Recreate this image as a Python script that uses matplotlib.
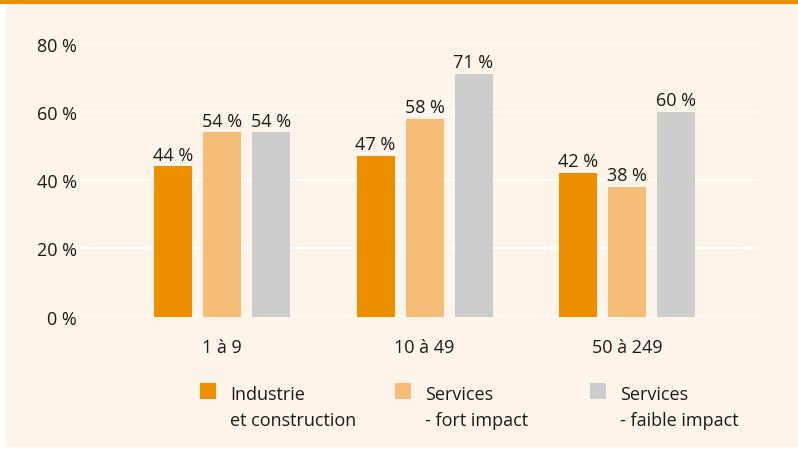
import matplotlib
matplotlib.use("Agg")
from matplotlib import pyplot as plt
from matplotlib.patches import Rectangle
from matplotlib.transforms import Affine2D
import numpy as np

# Data
categories = ["1 à 9", "10 à 49", "50 à 249"]
series_names = ["Industrie\net construction", "Services\n- fort impact", "Services\n- faible impact"]
industrie = [44, 47, 42]
fort_impact = [54, 58, 38]
faible_impact = [54, 71, 60]
yticks = [0, 20, 40, 60, 80]

colors = ["#EE8F00", "#F6BD79", "#CCCCCC"]
bg = "#FEF4EA"

plt.rcParams['font.family'] = ['Open Sans', 'DejaVu Sans']

W, H = 798, 452
fig = plt.figure(figsize=(W / 100, H / 100), dpi=100)
fig.patch.set_facecolor("white")

# pixel transform with origin at top-left
px = Affine2D().scale(1.0 / W, -1.0 / H).translate(0, 1) + fig.transFigure

# background panel and top band
fig.patches.append(Rectangle((6, 4), W - 6, 444, transform=px, facecolor=bg, edgecolor="none", zorder=-10))
fig.patches.append(Rectangle((0, 0), W, 4.5, transform=px, facecolor=colors[0], edgecolor="none", zorder=-10))

# axes: x from 80 to 760 px, y 0% at 317.7 px, 80% at 44.5 px
ax = fig.add_axes([80 / W, (H - 317.7) / H, 680 / W, (317.7 - 44.5) / H])
ax.set_zorder(5)
ax.set_facecolor("none")
for s in ax.spines.values():
    s.set_visible(False)

x = np.arange(len(categories))
step = 202.5
width = 38 / step
offset = 49 / step
all_series = [industrie, fort_impact, faible_impact]
for i, vals in enumerate(all_series):
    bars = ax.bar(x + (i - 1) * offset, vals, width, color=colors[i], zorder=3)
    ax.bar_label(bars, labels=[f"{v} %" for v in vals], padding=2, fontsize=13, color="#1a1a1a")

ax.set_xlim((80 - 222) / step, (760 - 222) / step)
ax.set_ylim(0, 80)
ax.set_yticks(yticks)
ax.set_yticklabels([f"{t} %" for t in yticks], fontsize=13, color="#1a1a1a")
ax.set_xticks(x)
ax.set_xticklabels(categories, fontsize=13, color="#1a1a1a")
ax.tick_params(axis="both", length=0)
ax.tick_params(axis="y", pad=2)
ax.tick_params(axis="x", pad=15)
ax.grid(axis="y", color="white", linewidth=1.2, zorder=1)
ax.set_axisbelow(True)

# legend
leg_x = [200, 395, 590]
for i, name in enumerate(series_names):
    fig.patches.append(Rectangle((leg_x[i], 384), 16, 16, transform=px, facecolor=colors[i], edgecolor="none"))
    fig.text(leg_x[i] + 30, 386, name, transform=px, fontsize=13, color="#1a1a1a",
             va="top", ha="left", linespacing=1.55)

fig.savefig("out.png", dpi=100, facecolor=fig.get_facecolor())
